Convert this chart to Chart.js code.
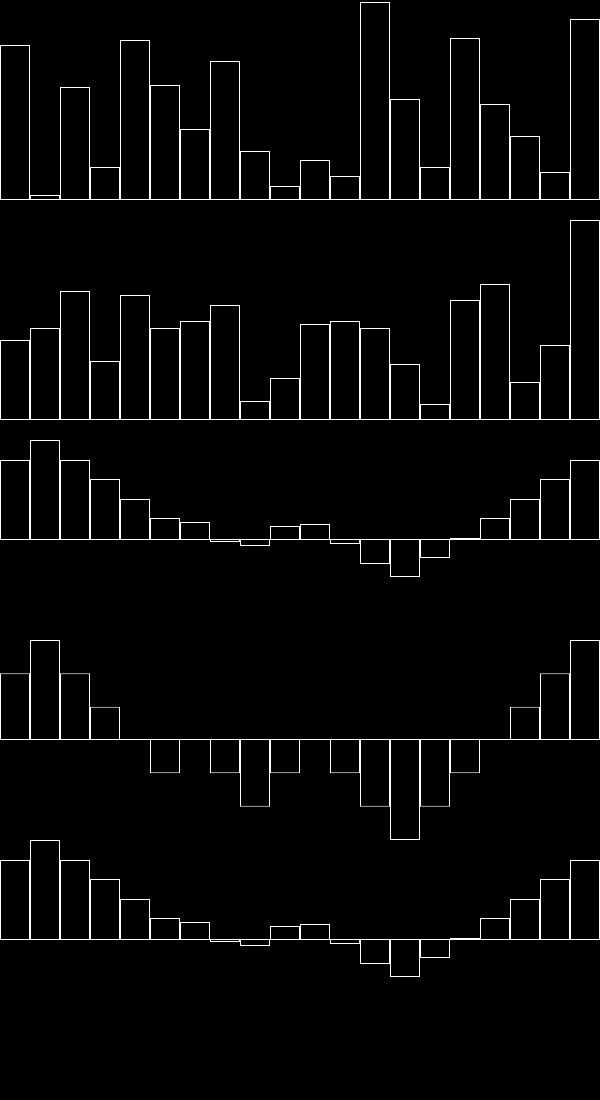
<!DOCTYPE html>
<html>
<head>
<meta charset="utf-8">
<script src="https://cdn.jsdelivr.net/npm/chart.js@4/dist/chart.umd.min.js"></script>
<style>
  html, body { margin: 0; padding: 0; background: #000; width: 600px; height: 1100px; overflow: hidden; }
  canvas { position: absolute; left: 0; display: block; }
</style>
</head>
<body>
<canvas id="c1" width="600" height="200" style="top:0px"></canvas>
<canvas id="c2" width="600" height="200" style="top:220px"></canvas>
<canvas id="c3" width="600" height="200" style="top:440px"></canvas>
<canvas id="c4" width="600" height="200" style="top:640px"></canvas>
<canvas id="c5" width="600" height="200" style="top:840px"></canvas>
<script>
const categories = ["1","2","3","4","5","6","7","8","9","10","11","12","13","14","15","16","17","18","19","20"];

const series1 = [155, 5, 113, 33, 160, 115, 71, 139, 49, 14, 40, 24, 198, 101, 33, 162, 96, 64, 28, 181];
const series2 = [80, 92, 129, 59, 125, 92, 99, 115, 19, 42, 96, 99, 92, 56, 16, 120, 136, 38, 75, 200];
const series3 = [2.4, 3.0, 2.4, 1.83, 1.23, 0.66, 0.54, -0.06, -0.18, 0.42, 0.48, -0.12, -0.72, -1.11, -0.54, 0.06, 0.66, 1.23, 1.83, 2.4];
const series4 = [2, 3, 2, 1, 0, -1, 0, -1, -2, -1, 0, -1, -2, -3, -2, -1, 0, 1, 2, 3];
const series5 = [2.4, 3.0, 2.4, 1.83, 1.23, 0.66, 0.54, -0.06, -0.18, 0.42, 0.48, -0.12, -0.72, -1.11, -0.54, 0.06, 0.66, 1.23, 1.83, 2.4];

const zeroLine = {
  id: 'zeroLine',
  afterDatasetsDraw(chart) {
    const ctx = chart.ctx;
    const y = Math.round(chart.scales.y.getPixelForValue(0));
    ctx.save();
    ctx.fillStyle = '#ffffff';
    ctx.fillRect(chart.chartArea.left, y - 1, chart.chartArea.right - chart.chartArea.left, 1);
    ctx.restore();
  }
};

function makeChart(id, data, min, max) {
  new Chart(document.getElementById(id), {
    type: 'bar',
    data: {
      labels: categories,
      datasets: [{
        data: data,
        backgroundColor: '#000000',
        borderColor: '#ffffff',
        borderWidth: 1,
        barPercentage: 1,
        categoryPercentage: 1,
        inflateAmount: 0
      }]
    },
    options: {
      responsive: false,
      devicePixelRatio: 1,
      animation: false,
      layout: { padding: 0 },
      plugins: { legend: { display: false }, tooltip: { enabled: false } },
      scales: {
        x: { display: false },
        y: { display: false, min: min, max: max }
      }
    },
    plugins: [zeroLine]
  });
}

makeChart('c1', series1, 0, 200);
makeChart('c2', series2, 0, 200);
makeChart('c3', series3, -3, 3);
makeChart('c4', series4, -3, 3);
makeChart('c5', series5, -3, 3);
</script>
</body>
</html>
